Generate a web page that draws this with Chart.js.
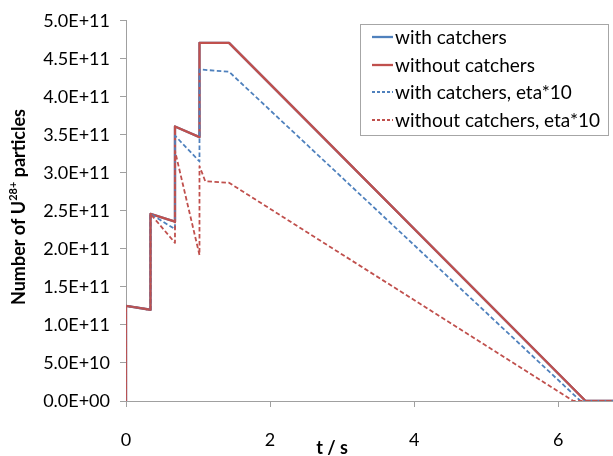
<!DOCTYPE html>
<html><head><meta charset="utf-8">
<script src="https://cdn.jsdelivr.net/npm/chart.js@4/dist/chart.umd.min.js"></script>
<style>html,body{margin:0;padding:0;background:#fff;overflow:hidden}</style>
</head><body>
<canvas id="c" width="613" height="456"></canvas>
<script>
// ---- data (time in s, particles) ----
const seriesNames = ['with catchers', 'without catchers', 'with catchers, eta*10', 'without catchers, eta*10'];
const seriesColors = ['#4F81BD', '#C0504D', '#4F81BD', '#C0504D'];
const tSolid = [0, 0, 0.34, 0.34, 0.68, 0.68, 1.02, 1.02, 1.43, 6.38, 6.76];
const nWith = [0, 1.25e11, 1.20e11, 2.46e11, 2.36e11, 3.61e11, 3.47e11, 4.71e11, 4.71e11, 0, 0];
const nWithout = [0, 1.25e11, 1.20e11, 2.46e11, 2.36e11, 3.61e11, 3.47e11, 4.71e11, 4.71e11, 0, 0];
const tWithEta = [0, 0, 0.34, 0.34, 0.68, 0.68, 1.02, 1.02, 1.43, 6.31, 6.76];
const nWithEta = [0, 1.25e11, 1.20e11, 2.46e11, 2.26e11, 3.49e11, 3.15e11, 4.36e11, 4.33e11, 0, 0];
const tWithoutEta = [0, 0, 0.34, 0.34, 0.68, 0.68, 1.02, 1.02, 1.10, 1.43, 6.21, 6.76];
const nWithoutEta = [0, 1.25e11, 1.20e11, 2.46e11, 2.08e11, 3.29e11, 1.92e11, 3.09e11, 2.89e11, 2.87e11, 0, 0];
const xTicks = [0, 2, 4, 6];
const xMax = 6.76;
const yMax = 5e11, yStep = 5e10;

const FONT = 'Lato';
const pts = (ts, ns) => ts.map((t, i) => ({x: t, y: ns[i]}));

function sci(v) {
  if (v === 0) return '0.0E+00';
  const e = Math.floor(Math.log10(v) + 1e-9);
  const m = Math.round(v / Math.pow(10, e) * 10) / 10;
  return m.toFixed(1) + 'E+' + String(e).padStart(2, '0');
}

const dashes = [null, null, [4.5, 2.5], [4.5, 2.5]];
const widths = [2.3, 2.3, 1.8, 1.8];
const datasets = [
  pts(tSolid, nWith), pts(tSolid, nWithout), pts(tWithEta, nWithEta), pts(tWithoutEta, nWithoutEta)
].map((d, i) => ({
  label: seriesNames[i], data: d, borderColor: seriesColors[i], backgroundColor: seriesColors[i],
  borderWidth: widths[i], borderDash: dashes[i] || [], pointRadius: 0, tension: 0, fill: false,
  order: 3 - i, borderJoinStyle: 'round'
}));

const annot = {
  id: 'annot',
  afterDraw(chart) {
    const ctx = chart.ctx;
    ctx.save();
    // legend
    const lx = 360, ly = 24, lw = 248, lh = 111;
    ctx.fillStyle = '#fff';
    ctx.fillRect(lx, ly, lw, lh);
    ctx.strokeStyle = '#a6a6a6'; ctx.lineWidth = 1;
    ctx.strokeRect(lx + 0.5, ly + 0.5, lw, lh);
    const rows = [37, 65, 92, 120];
    ctx.font = '19px ' + FONT;
    ctx.textBaseline = 'middle'; ctx.textAlign = 'left';
    seriesNames.forEach((n, i) => {
      ctx.strokeStyle = seriesColors[i];
      ctx.lineWidth = widths[i];
      ctx.setLineDash(dashes[i] ? [3, 2] : []);
      ctx.beginPath(); ctx.moveTo(372, rows[i]); ctx.lineTo(393, rows[i]); ctx.stroke();
      ctx.setLineDash([]);
      ctx.fillStyle = '#000';
      ctx.fillText(n, 395, rows[i] + 1);
    });
    // x title
    ctx.font = 'bold 18px ' + FONT;
    ctx.textAlign = 'center'; ctx.textBaseline = 'alphabetic';
    ctx.fillText('t / s', 332, 454);
    // y title with superscript
    ctx.translate(19, 207);
    ctx.rotate(-Math.PI / 2);
    const a = 'Number of U', sup = '28+', b = ' particles';
    const fMain = 'bold 18px ' + FONT, fSup = 'bold 11px ' + FONT;
    ctx.font = fMain; const wa = ctx.measureText(a).width, wb = ctx.measureText(b).width;
    ctx.font = fSup; const ws = ctx.measureText(sup).width;
    let x = -(wa + ws + wb) / 2;
    ctx.textAlign = 'left'; ctx.textBaseline = 'middle';
    ctx.font = fMain; ctx.fillText(a, x, 0); x += wa;
    ctx.font = fSup; ctx.fillText(sup, x, -6); x += ws;
    ctx.font = fMain; ctx.fillText(b, x, 0);
    ctx.restore();
  }
};

new Chart(document.getElementById('c'), {
  type: 'line',
  data: {datasets},
  options: {
    responsive: false, animation: false, devicePixelRatio: 1,
    layout: {padding: {top: 19, right: 0, left: 0, bottom: 0}},
    plugins: {legend: {display: false}, tooltip: {enabled: false}},
    scales: {
      x: {
        type: 'linear', min: 0, max: xMax,
        afterBuildTicks: s => { s.ticks = xTicks.map(v => ({value: v})); },
        afterFit: s => { s.height = 55; },
        grid: {drawOnChartArea: false, drawTicks: true, tickLength: 6, color: '#a0a0a0'},
        border: {display: true, color: '#a0a0a0', width: 1},
        ticks: {color: '#000', font: {family: FONT, size: 18}, padding: 22, maxRotation: 0, callback: v => String(v)}
      },
      y: {
        min: 0, max: yMax,
        afterBuildTicks: s => { const t = []; for (let v = 0; v <= yMax + 1; v += yStep) t.push({value: v}); s.ticks = t; },
        afterFit: s => { s.width = 126; },
        grid: {drawOnChartArea: false, drawTicks: true, tickLength: 6, color: '#a0a0a0'},
        border: {display: true, color: '#a0a0a0', width: 1},
        ticks: {color: '#000', font: {family: FONT, size: 18}, padding: 10, callback: v => sci(v)}
      }
    }
  },
  plugins: [annot]
});
</script>
</body></html>
